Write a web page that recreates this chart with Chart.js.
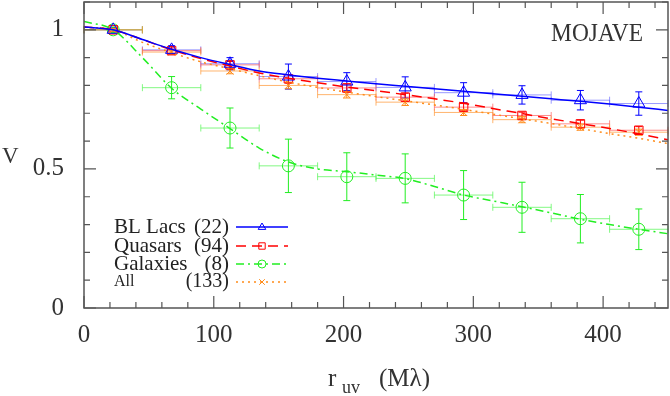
<!DOCTYPE html>
<html lang="en">
<head>
    <meta charset="UTF-8">
    <title>MOJAVE visibility vs r_uv</title>
    <style>
        body {
            margin: 0;
            background-color: #fff;
        }
        #chartContainer {
            width: 670px;
            height: 396px;
        }
    </style>
    <script src="https://cdn.jsdelivr.net/npm/chart.js"></script>
</head>
<body>
    <div id="chartContainer">
        <canvas id="visChart"></canvas>
    </div>

    <script>
        // bin centres in M lambda (bins are 45 wide)
        const binCenters = [22.5, 67.5, 112.5, 157.5, 202.5, 247.5, 292.5, 337.5, 382.5, 427.5];
        const binHalfWidth = [22.5, 22.5, 22.5, 22.5, 22.5, 22.5, 22.5, 22.5, 22.5, 22.5];

        // measured visibilities
        const blLacsV = [1.0, 0.928, 0.878, 0.832, 0.814, 0.793, 0.774, 0.766, 0.747, 0.735];
        const blLacsErr = [0.008, 0.015, 0.022, 0.045, 0.032, 0.038, 0.036, 0.033, 0.035, 0.042];
        const quasarsV = [1.0, 0.925, 0.874, 0.824, 0.791, 0.758, 0.722, 0.692, 0.662, 0.639];
        const quasarsErr = [0.005, 0.01, 0.012, 0.015, 0.014, 0.014, 0.013, 0.012, 0.013, 0.013];
        const galaxiesV = [1.0, 0.792, 0.647, 0.511, 0.472, 0.466, 0.406, 0.362, 0.321, 0.283];
        const galaxiesErr = [0.01, 0.04, 0.072, 0.096, 0.086, 0.088, 0.088, 0.09, 0.087, 0.073];
        const allV = [1.0, 0.92, 0.852, 0.80, 0.767, 0.74, 0.703, 0.677, 0.65, 0.632];
        const allErr = [0.005, 0.008, 0.01, 0.012, 0.012, 0.012, 0.011, 0.011, 0.011, 0.011];

        const fitX = [0, 22.5, 45, 67.5, 90, 112.5, 135, 157.5, 180, 202.5, 225, 247.5, 270, 292.5, 315, 337.5, 360, 382.5, 405, 427.5, 450];
        const blLacsFit = [1.01, 1.0, 0.965, 0.93, 0.9, 0.875, 0.852, 0.838, 0.826, 0.816, 0.806, 0.797, 0.788, 0.779, 0.77, 0.761, 0.752, 0.743, 0.733, 0.722, 0.71];
        const quasarsFit = [1.01, 1.0, 0.965, 0.928, 0.897, 0.87, 0.845, 0.826, 0.81, 0.794, 0.781, 0.767, 0.752, 0.736, 0.717, 0.699, 0.68, 0.663, 0.645, 0.626, 0.605];
        const galaxiesFit = [1.03, 1.0, 0.9, 0.79, 0.715, 0.645, 0.575, 0.525, 0.5, 0.49, 0.478, 0.465, 0.437, 0.406, 0.385, 0.364, 0.342, 0.319, 0.3, 0.283, 0.267];
        const allFit = [1.01, 1.0, 0.955, 0.918, 0.885, 0.86, 0.835, 0.812, 0.793, 0.776, 0.76, 0.745, 0.73, 0.714, 0.697, 0.68, 0.663, 0.645, 0.627, 0.61, 0.591];

        const xTickValues = [0, 100, 200, 300, 400];
        const yTickValues = [0, 0.5, 1];

        const legendNames = ['BL Lacs', 'Quasars', 'Galaxies', 'All'];
        const legendCounts = ['(22)', '(94)', '(8)', '(133)'];

        const SERIF = '"Liberation Serif", "DejaVu Serif", serif';

        function pts(xs, ys) {
            return xs.map((x, i) => ({ x: x, y: ys[i] }));
        }

        function drawMarker(ctx, style, x, y, r) {
            ctx.beginPath();
            if (style === 'triangle') {
                ctx.moveTo(x, y - r);
                ctx.lineTo(x + r * 0.95, y + r * 0.6);
                ctx.lineTo(x - r * 0.95, y + r * 0.6);
                ctx.closePath();
            } else if (style === 'rect') {
                ctx.rect(x - r * 0.8, y - r * 0.8, r * 1.6, r * 1.6);
            } else if (style === 'circle') {
                ctx.arc(x, y, r, 0, Math.PI * 2);
            } else {
                ctx.moveTo(x - r * 0.7, y - r * 0.7);
                ctx.lineTo(x + r * 0.7, y + r * 0.7);
                ctx.moveTo(x + r * 0.7, y - r * 0.7);
                ctx.lineTo(x - r * 0.7, y + r * 0.7);
            }
            ctx.stroke();
        }

        const groups = [
            { v: blLacsV, err: blLacsErr, fit: blLacsFit, color: '#0000ff', light: 'rgba(100,100,255,0.65)', style: 'triangle', radius: 7, dash: [] },
            { v: quasarsV, err: quasarsErr, fit: quasarsFit, color: '#ff0000', light: 'rgba(255,80,80,0.65)', style: 'rect', radius: 6, dash: [10, 6] },
            { v: galaxiesV, err: galaxiesErr, fit: galaxiesFit, color: '#22ee22', light: 'rgba(90,245,90,0.75)', style: 'circle', radius: 6, dash: [8, 4, 2, 4] },
            { v: allV, err: allErr, fit: allFit, color: '#ff8c1a', light: 'rgba(255,150,50,0.7)', style: 'crossRot', radius: 5, dash: [2, 4] }
        ];

        const datasets = [];
        groups.forEach(g => {
            datasets.push({
                type: 'line',
                data: pts(fitX, g.fit),
                borderColor: g.color,
                borderWidth: 1.5,
                borderDash: g.dash,
                pointRadius: 0,
                tension: 0.4,
                cubicInterpolationMode: 'monotone',
                fill: false
            });
        });
        groups.forEach(g => {
            datasets.push({
                type: 'scatter',
                data: pts(binCenters, g.v),
                errY: g.err,
                errX: binHalfWidth,
                lightColor: g.light,
                borderColor: g.color,
                backgroundColor: 'rgba(0,0,0,0)',
                pointStyle: g.style,
                pointRadius: g.radius,
                pointBorderWidth: 1,
                showLine: false
            });
        });

        // error bars drawn under the markers
        const errorBars = {
            id: 'errorBars',
            beforeDatasetsDraw(chart) {
                const ctx = chart.ctx;
                const xs = chart.scales.x, ys = chart.scales.y;
                ctx.save();
                chart.data.datasets.forEach(ds => {
                    if (!ds.errY) return;
                    ds.data.forEach((p, i) => {
                        const px = xs.getPixelForValue(p.x);
                        const py = ys.getPixelForValue(p.y);
                        const x0 = xs.getPixelForValue(p.x - ds.errX[i]);
                        const x1 = xs.getPixelForValue(p.x + ds.errX[i]);
                        const y0 = ys.getPixelForValue(p.y - ds.errY[i]);
                        const y1 = ys.getPixelForValue(p.y + ds.errY[i]);
                        ctx.lineWidth = 1;
                        ctx.strokeStyle = ds.lightColor;
                        ctx.beginPath();
                        ctx.moveTo(x0, py); ctx.lineTo(x1, py);
                        ctx.moveTo(x0, py - 3.5); ctx.lineTo(x0, py + 3.5);
                        ctx.moveTo(x1, py - 3.5); ctx.lineTo(x1, py + 3.5);
                        ctx.stroke();
                        ctx.strokeStyle = ds.borderColor;
                        ctx.beginPath();
                        ctx.moveTo(px, y0); ctx.lineTo(px, y1);
                        ctx.moveTo(px - 3.5, y0); ctx.lineTo(px + 3.5, y0);
                        ctx.moveTo(px - 3.5, y1); ctx.lineTo(px + 3.5, y1);
                        ctx.stroke();
                    });
                });
                ctx.restore();
            }
        };

        // frame, inward ticks, titles, legend
        const decorations = {
            id: 'decorations',
            afterDraw(chart) {
                const ctx = chart.ctx;
                const { left, right, top, bottom } = chart.chartArea;
                const xs = chart.scales.x, ys = chart.scales.y;
                ctx.save();
                ctx.strokeStyle = '#555';
                ctx.lineWidth = 1.5;
                ctx.strokeRect(left, top, right - left, bottom - top);
                ctx.lineWidth = 1.2;
                ctx.beginPath();
                for (let v = 0; v <= 450; v += 20) {
                    const px = xs.getPixelForValue(v);
                    const len = v % 100 === 0 ? 12 : 6;
                    ctx.moveTo(px, bottom); ctx.lineTo(px, bottom - len);
                    ctx.moveTo(px, top); ctx.lineTo(px, top + len);
                }
                for (let i = 0; i <= 11; i++) {
                    const py = ys.getPixelForValue(i / 10);
                    const len = i % 5 === 0 ? 12 : 6;
                    ctx.moveTo(left, py); ctx.lineTo(left + len, py);
                    ctx.moveTo(right, py); ctx.lineTo(right - len, py);
                }
                ctx.stroke();

                ctx.fillStyle = '#333';
                ctx.textBaseline = 'alphabetic';
                ctx.save();
                ctx.font = '26px ' + SERIF;
                ctx.textAlign = 'right';
                ctx.translate(643, 41);
                ctx.scale(0.9, 1);
                ctx.fillText('MOJAVE', 0, 0);
                ctx.restore();

                ctx.textAlign = 'left';
                ctx.font = '23px ' + SERIF;
                ctx.fillText('V', 2, 163);

                ctx.font = '25px ' + SERIF;
                ctx.fillText('r', 328, 386);
                ctx.font = '18px ' + SERIF;
                ctx.fillText('uv', 342, 393);
                ctx.font = '25px ' + SERIF;
                ctx.fillText('(M\u03bb)', 379, 386);

                // legend: names left, counts right-aligned
                const rows = [227, 246, 264, 282];
                groups.forEach((g, i) => {
                    const y = rows[i];
                    ctx.fillStyle = '#222';
                    ctx.textBaseline = 'middle';
                    ctx.font = (i === 3 ? '16px ' : '21px ') + SERIF;
                    ctx.textAlign = 'left';
                    ctx.fillText(legendNames[i], 114, y);
                    ctx.font = (i === 3 ? '20px ' : '21px ') + SERIF;
                    ctx.textAlign = 'right';
                    ctx.fillText(legendCounts[i], 229, y);

                    ctx.strokeStyle = g.color;
                    ctx.lineWidth = 1.5;
                    ctx.setLineDash(g.dash);
                    ctx.beginPath();
                    ctx.moveTo(236, y); ctx.lineTo(288, y);
                    ctx.stroke();
                    ctx.setLineDash([]);
                    ctx.lineWidth = 1;
                    drawMarker(ctx, g.style, 262, y, 4);
                });
                ctx.restore();
            }
        };

        document.addEventListener('DOMContentLoaded', function () {
            const ctx = document.getElementById('visChart').getContext('2d');
            new Chart(ctx, {
                type: 'scatter',
                data: { datasets: datasets },
                options: {
                    responsive: true,
                    maintainAspectRatio: false,
                    animation: false,
                    layout: { autoPadding: false, padding: { top: 2, right: 2, left: 0, bottom: 0 } },
                    scales: {
                        x: {
                            type: 'linear',
                            min: 0,
                            max: 450,
                            afterBuildTicks: s => { s.ticks = xTickValues.map(v => ({ value: v })); },
                            afterFit: s => { s.height = 88; s.paddingLeft = 0; s.paddingRight = 0; },
                            grid: { display: false, drawTicks: false },
                            border: { display: false },
                            ticks: {
                                padding: 12,
                                maxRotation: 0,
                                color: '#333',
                                font: { family: SERIF, size: 25 }
                            }
                        },
                        y: {
                            min: 0,
                            max: 1.1,
                            afterBuildTicks: s => { s.ticks = yTickValues.map(v => ({ value: v })); },
                            afterFit: s => { s.width = 84; s.paddingTop = 0; s.paddingBottom = 0; },
                            grid: { display: false, drawTicks: false },
                            border: { display: false },
                            ticks: {
                                padding: 20,
                                color: '#333',
                                font: { family: SERIF, size: 25 },
                                callback: v => String(v)
                            }
                        }
                    },
                    plugins: {
                        legend: { display: false },
                        tooltip: { enabled: false }
                    }
                },
                plugins: [errorBars, decorations]
            });
        });
    </script>
</body>
</html>
